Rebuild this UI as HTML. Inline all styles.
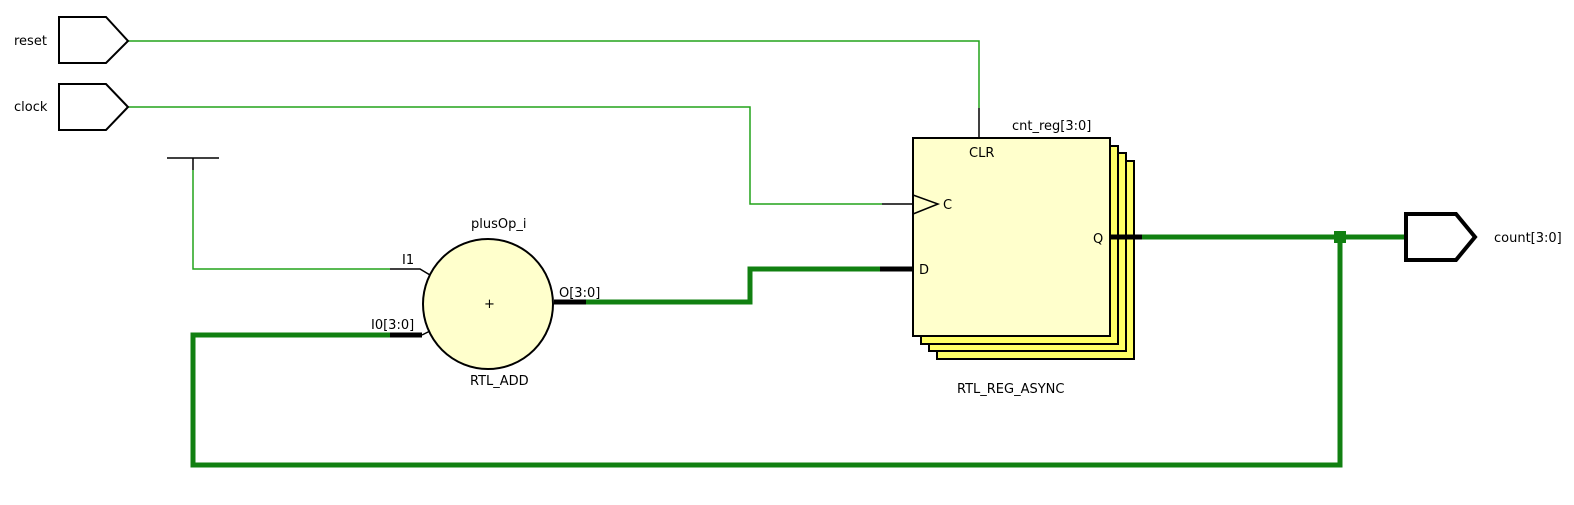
<!DOCTYPE html>
<html><head><style>body{margin:0;background:#fff}svg{display:block}text{font-family:"DejaVu Sans","Liberation Sans",sans-serif;font-size:13px;fill:#000}</style></head>
<body>
<svg width="1574" height="505" viewBox="0 0 1574 505" xmlns="http://www.w3.org/2000/svg">
<g fill="none" stroke="#22a31a" stroke-width="1.5">
<polyline points="128,41 979,41 979,108"/>
<polyline points="128,107 750,107 750,204 882,204"/>
<polyline points="193,170 193,269 390,269"/>
</g>
<g stroke="#000" stroke-width="1.5" fill="none">
<line x1="979" y1="108" x2="979" y2="138"/>
<line x1="882" y1="204" x2="915" y2="204"/>
<line x1="167" y1="158" x2="219" y2="158"/>
<line x1="193" y1="158" x2="193" y2="170"/>
<polyline points="390,269 420,269 430,275"/>
</g>
<g fill="none" stroke="#118011" stroke-width="5">
<polyline points="586,302 750,302 750,269 882,269"/>
<polyline points="1142,237 1404,237"/>
<polyline points="1340,237 1340,465 193,465 193,335 390,335"/>
</g>
<rect x="1334" y="231" width="12" height="12" fill="#118011"/>
<line x1="422" y1="335" x2="430" y2="331" stroke="#000" stroke-width="1.5"/>
<g fill="#fff" stroke="#000" stroke-width="2">
<polygon points="59,17 106,17 128,41 106,63 59,63"/>
<polygon points="59,84 106,84 128,107 106,130 59,130"/>
</g>
<polygon points="1406,214 1456,214 1475,237 1456,260 1406,260" fill="#fff" stroke="#000" stroke-width="4"/>
<text x="14" y="45">reset</text>
<text x="14" y="111">clock</text>
<text x="1494" y="242">count[3:0]</text>
<circle cx="488" cy="304" r="65" fill="#ffffcc" stroke="#000" stroke-width="2"/>
<text x="484" y="308">+</text>
<text x="471" y="228">plusOp_i</text>
<text x="470" y="385">RTL_ADD</text>
<text x="402" y="264">I1</text>
<text x="371" y="329">I0[3:0]</text>
<text x="559" y="297">O[3:0]</text>
<g stroke="#000" stroke-width="2">
<rect x="937" y="161" width="197" height="198" fill="#ffff66"/>
<rect x="929" y="153" width="197" height="198" fill="#ffff66"/>
<rect x="921" y="146" width="197" height="198" fill="#ffff66"/>
<rect x="913" y="138" width="197" height="198" fill="#ffffcc"/>
</g>
<g stroke="#000" stroke-width="5">
<line x1="390" y1="335" x2="422" y2="335"/>
<line x1="554" y1="302" x2="586" y2="302"/>
<line x1="880" y1="269" x2="913" y2="269"/>
<line x1="1110" y1="237" x2="1142" y2="237"/>
</g>
<polyline points="913,195 938,204 913,214" fill="none" stroke="#000" stroke-width="1.5"/>
<text x="969" y="157">CLR</text>
<text x="943" y="209">C</text>
<text x="919" y="274">D</text>
<text x="1093" y="243">Q</text>
<text x="1012" y="130">cnt_reg[3:0]</text>
<text x="957" y="393">RTL_REG_ASYNC</text>
</svg>
</body></html>
